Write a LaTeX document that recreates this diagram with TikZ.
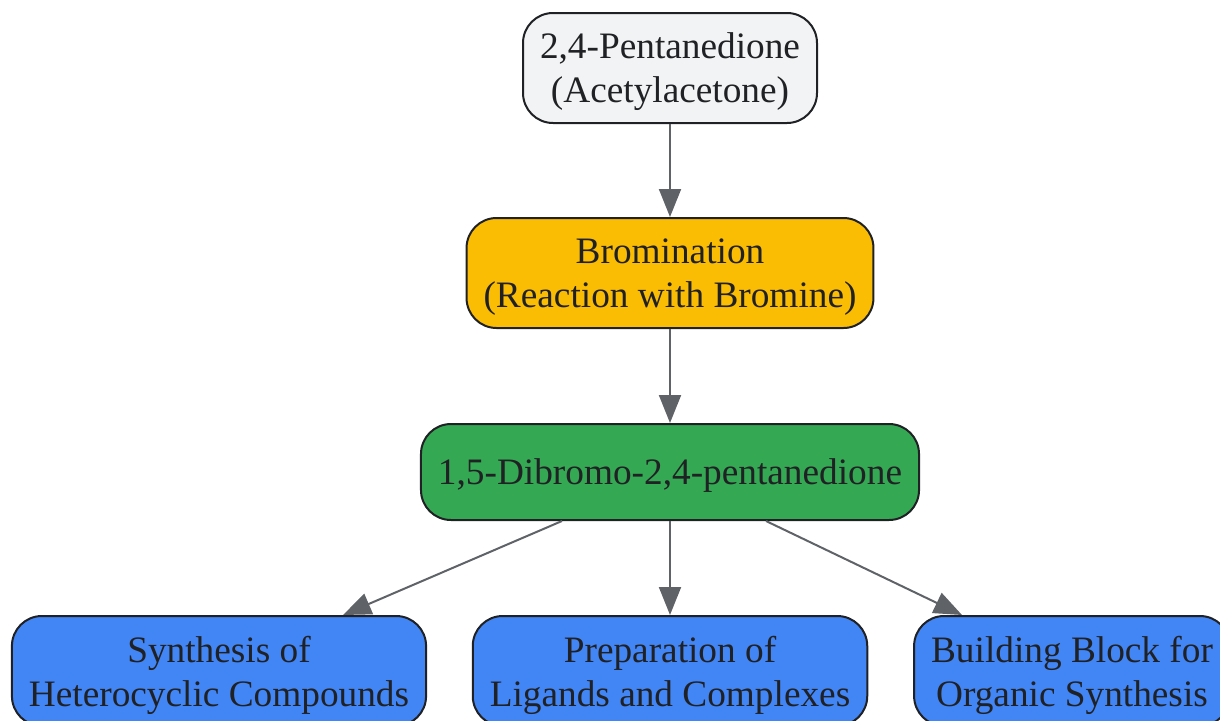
\documentclass[tikz,border=0pt]{standalone}
\usepackage{fontspec}
\setmainfont{Liberation Serif}
\usetikzlibrary{arrows.meta}
\definecolor{boxgray}{HTML}{F1F3F4}
\definecolor{boxyellow}{HTML}{FBBC04}
\definecolor{boxgreen}{HTML}{34A853}
\definecolor{boxblue}{HTML}{4285F4}
\definecolor{txtdark}{HTML}{202124}
\definecolor{linegray}{HTML}{5F6368}
\tikzset{
    stepbox/.style={draw=txtdark,line width=2pt,rounded corners=30pt,align=center,
        text=txtdark,inner xsep=17pt,minimum height=110pt,text depth=0pt,
        font=\fontsize{37.3}{44}\selectfont},
    flow/.style={draw=linegray,line width=2pt,-{Triangle[length=28pt,width=22pt]}}
}
\begin{document}
\begin{tikzpicture}[x=1pt,y=-1pt]
\useasboundingbox (0,0) rectangle (1220,720);
    \node[stepbox,fill=boxgray] (acac) at (670,68) {2,4-Pentanedione\\(Acetylacetone)};
    \node[stepbox,fill=boxyellow] (brom) at (670,273) {Bromination\\(Reaction with Bromine)};
    \node[stepbox,fill=boxgreen,minimum height=96pt] (dibr) at (670,472) {1,5-Dibromo-2,4-pentanedione};
    \node[stepbox,fill=boxblue] (hetero) at (219,671) {Synthesis of\\Heterocyclic Compounds};
    \node[stepbox,fill=boxblue] (ligand) at (670,671) {Preparation of\\Ligands and Complexes};
    \node[stepbox,fill=boxblue] (block) at (1072,671) {Building Block for\\Organic Synthesis};
    \draw[flow] (acac) -- (brom);
    \draw[flow] (brom) -- (dibr);
    \draw[flow] ([xshift=-108pt]dibr.south) -- ([xshift=124pt]hetero.north);
    \draw[flow] (dibr) -- (ligand);
    \draw[flow] ([xshift=96pt]dibr.south) -- ([xshift=-110pt]block.north);
\end{tikzpicture}
\end{document}
